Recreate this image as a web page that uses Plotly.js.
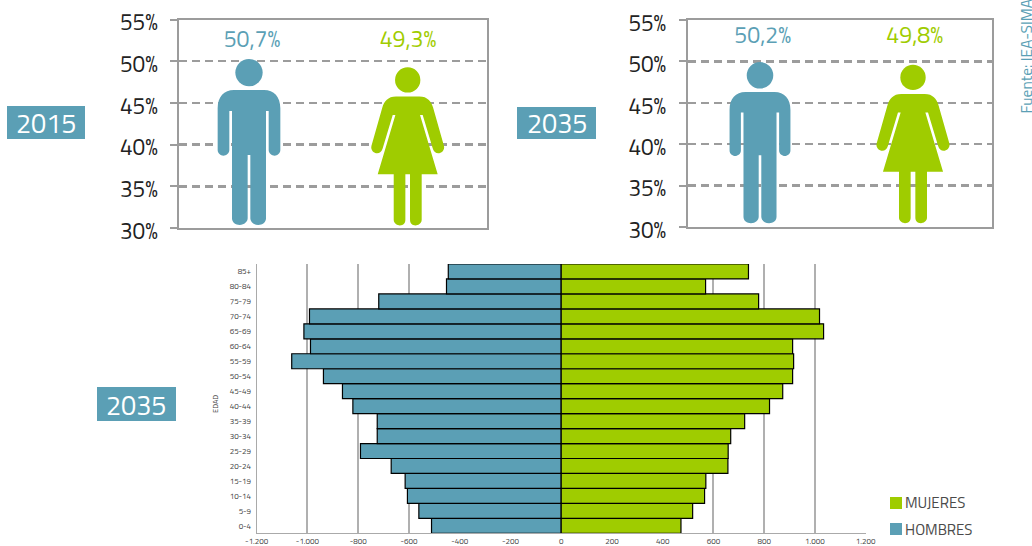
<!DOCTYPE html>
<html><head><meta charset="utf-8">
<script src="https://cdn.plot.ly/plotly-3.0.1.min.js"></script>
<style>html,body{margin:0;padding:0;background:#fff}#c{width:1032px;height:546px}</style></head>
<body><div id="c"></div>
<script>
// DATA
const ageGroups = ["0-4","5-9","10-14","15-19","20-24","25-29","30-34","35-39","40-44","45-49","50-54","55-59","60-64","65-69","70-74","75-79","80-84","85+"];
const hombres = [-511,-561,-606,-615,-670,-791,-725,-725,-821,-862,-937,-1062,-988,-1014,-992,-719,-452,-445];
const mujeres = [472,518,565,570,657,658,668,723,821,873,912,916,912,1034,1018,778,569,738];
const pyramidTicks = [-1200,-1000,-800,-600,-400,-200,0,200,400,600,800,1000,1200];
const pyramidTickText = ["-1.200","-1.000","-800","-600","-400","-200","0","200","400","600","800","1.000","1.200"];
const figureTop2015 = [50.23,49.27];
const figureTop2035 = [49.89,49.6];
const shareLabels2015 = ["50,7%","49,3%"];
const shareLabels2035 = ["50,2%","49,8%"];
const pctTicks = [30,35,40,45,50,55];
const pctTickText = ["30%","35%","40%","45%","50%","55%"];

const TEAL="#5b9fb5", GREEN="#9fcc00", GREY="#9c9c9c", W=1032, H=546;
const FONT="Titillium Web, Lato, 'Open Sans', sans-serif";
const dx=(a,b)=>[a/W,b/W], dy=(t,b)=>[1-b/H,1-t/H];

// Silhouette outlines (right half, mirrored), in units of the figure's own drawing grid.
const manH=497, manHead={cy:40,r:41};
const manHalf=[["M",0,92],["L",45,92],["C",75,92,94,112,94,147],["L",94,272],["C",94,282,85,289,77,289],["C",68,289,59,282,59,272],["L",59,155],["L",51,155],["L",51,477],["C",51,490,40,497,28,497],["C",14,497,4,487,4,477],["L",4,287],["L",0,287]];
const womanH=475, womanHead={cy:38,r:38};
const womanHalf=[["M",0,88],["L",35,88],["C",60,88,70,103,76,120],["L",109,236],["C",112,250,100,258,92,258],["C",84,258,78,253,75,243],["L",45,143],["L",37,143],["L",90,321],["L",42,321],["L",42,458],["C",42,470,30,475,24,475],["C",12,475,7,468,7,458],["L",7,321],["L",0,321]];

function figureShapes(halves,head,gridH,cx,top,base,color,xr,yr,pxPerPct){
  const hPx=(top-base)*pxPerPct, k=hPx/gridH;
  const X=u=>cx+u*k, Y=v=>top-(v/gridH)*(top-base);
  let d="";
  const seg=(c,pts,sign)=>{let s=c;for(let i=0;i<pts.length;i+=2){s+=(i?" ":"")+X(sign*pts[i]).toFixed(2)+","+Y(pts[i+1]).toFixed(3)+" ";}return s;};
  halves.forEach(h=>{d+=seg(h[0],h.slice(1),1);});
  for(let i=halves.length-1;i>0;i--){
    const cur=halves[i],prev=halves[i-1];
    const prevEnd=prev.slice(-2);
    if(cur[0]==="L"){d+=seg("L",prevEnd,-1);}
    else{d+=seg("C",[cur[3],cur[4],cur[1],cur[2],prevEnd[0],prevEnd[1]],-1);}
  }
  d+="Z";
  return [
    {type:"path",path:d,xref:xr,yref:yr,fillcolor:color,line:{width:0},layer:"above"},
    {type:"circle",xref:xr,yref:yr,x0:X(-head.r),x1:X(head.r),y0:Y(head.cy+head.r),y1:Y(head.cy-head.r),fillcolor:color,line:{width:0},layer:"above"}
  ];
}

const box1={l:179.3,r:486.7,t:19.5,b:228}, box2={l:687.7,r:991.7,t:20,b:227}, box3={l:256.7,r:865.7,t:264,b:533.3};
const ppp1=(box1.b-box1.t)/25, ppp2=(box2.b-box2.t)/25;
const centers1=[69.7,228.4], centers2=[72.3,225.3];
const labelX1=[72.7,228.7], labelX2=[75,227];

const shapes=[
 ...figureShapes(manHalf,manHead,manH,centers1[0],figureTop2015[0],30.36,TEAL,"x","y",ppp1),
 ...figureShapes(womanHalf,womanHead,womanH,centers1[1],figureTop2015[1],30.3,GREEN,"x","y",ppp1),
 ...figureShapes(manHalf,manHead,manH,centers2[0],figureTop2035[0],30.45,TEAL,"x2","y2",ppp2),
 ...figureShapes(womanHalf,womanHead,womanH,centers2[1],figureTop2035[1],30.45,GREEN,"x2","y2",ppp2),
];
const rect=(x0,y0,x1,y1,c)=>({type:"rect",xref:"paper",yref:"paper",x0:x0/W,x1:x1/W,y0:1-y1/H,y1:1-y0/H,fillcolor:c,line:{width:0}});
shapes.push(rect(7,106,85,139,TEAL),rect(517,107,596,139,TEAL),rect(97,387,176,421,TEAL),rect(890,497,902,509,GREEN),rect(890,523,902,535,TEAL));

const note=(x,y,t,size,color,extra)=>Object.assign({xref:"paper",yref:"paper",x:x/W,y:1-y/H,text:t,showarrow:false,font:{family:FONT,size:size,color:color},xanchor:"center",yanchor:"middle"},extra||{});
const annotations=[
 note(46,122.5,"2015",27,"#fff"),note(556.5,122.5,"2035",27,"#fff"),note(135.5,404,"2035",27,"#fff"),
 note(903,503,"MUJERES",15,"#4a4a4a",{xanchor:"left"}),note(903,529,"HOMBRES",15,"#4a4a4a",{xanchor:"left"}),
 note(1025.5,55,"Fuente: IEA-SIMA.",15.5,TEAL,{textangle:-90}),
 note(215,404,"EDAD",7.5,"#444",{textangle:-90}),
];

const pctAxis=(d)=>({domain:d,range:[30,55],tickmode:"array",tickvals:pctTicks,ticktext:pctTickText,showgrid:true,griddash:"8px,5px",gridcolor:GREY,gridwidth:2.5,
  showline:true,mirror:true,linecolor:GREY,linewidth:2,ticks:"outside",ticklen:7,tickwidth:2,tickcolor:GREY,ticklabelstandoff:8,ticklabelshift:3,zeroline:false,fixedrange:true,
  tickfont:{family:FONT,size:22.5,color:"#222"}});
const hidX=(d,r)=>({domain:d,range:[0,r],showgrid:false,showticklabels:false,zeroline:false,ticks:"",showline:true,mirror:true,linecolor:GREY,linewidth:2,fixedrange:true});

const traces=[
 {type:"scatter",mode:"text",x:labelX1,y:[52.45,52.45],xaxis:"x",yaxis:"y",text:shareLabels2015,textposition:"middle center",textfont:{family:FONT,size:23,color:[TEAL,GREEN]},hoverinfo:"skip",showlegend:false},
 {type:"scatter",mode:"text",x:labelX2,y:[52.95,52.95],xaxis:"x2",yaxis:"y2",text:shareLabels2035,textposition:"middle center",textfont:{family:FONT,size:23,color:[TEAL,GREEN]},hoverinfo:"skip",showlegend:false},
 {type:"bar",orientation:"h",name:"HOMBRES",x:hombres,y:ageGroups,xaxis:"x3",yaxis:"y3",width:1,marker:{color:TEAL,line:{color:"#000",width:1.2}},showlegend:false},
 {type:"bar",orientation:"h",name:"MUJERES",x:mujeres,y:ageGroups,xaxis:"x3",yaxis:"y3",width:1,marker:{color:GREEN,line:{color:"#000",width:1.2}},showlegend:false},
];
const layout={width:W,height:H,margin:{l:0,r:0,t:0,b:0},paper_bgcolor:"#fff",plot_bgcolor:"#fff",barmode:"overlay",showlegend:false,
 xaxis:hidX(dx(box1.l,box1.r),box1.r-box1.l),yaxis:Object.assign(pctAxis(dy(box1.t,box1.b)),{anchor:"x"}),
 xaxis2:Object.assign(hidX(dx(box2.l,box2.r),box2.r-box2.l),{anchor:"y2"}),yaxis2:Object.assign(pctAxis(dy(box2.t,box2.b)),{anchor:"x2"}),
 xaxis3:{domain:dx(box3.l,box3.r),range:[-1200,1200],anchor:"y3",tickmode:"array",tickvals:pyramidTicks,ticktext:pyramidTickText,showgrid:true,gridcolor:"#b0b0b0",gridwidth:2,zeroline:true,zerolinecolor:"#777",zerolinewidth:1.5,showline:true,linecolor:"#aaa",linewidth:1,ticks:"",ticklabelstandoff:0,fixedrange:true,tickfont:{family:FONT,size:8,color:"#444"}},
 yaxis3:{domain:dy(box3.t,box3.b),anchor:"x3",type:"category",categoryorder:"array",categoryarray:ageGroups,range:[-0.5,17.5],showline:true,linecolor:"#aaa",linewidth:1,showgrid:false,zeroline:false,ticks:"",ticklabelstandoff:3,ticklabelshift:0.5,fixedrange:true,tickfont:{family:FONT,size:8,color:"#444"}},
 shapes,annotations};
Plotly.newPlot("c",traces,layout,{displayModeBar:false,staticPlot:true});
</script></body></html>
